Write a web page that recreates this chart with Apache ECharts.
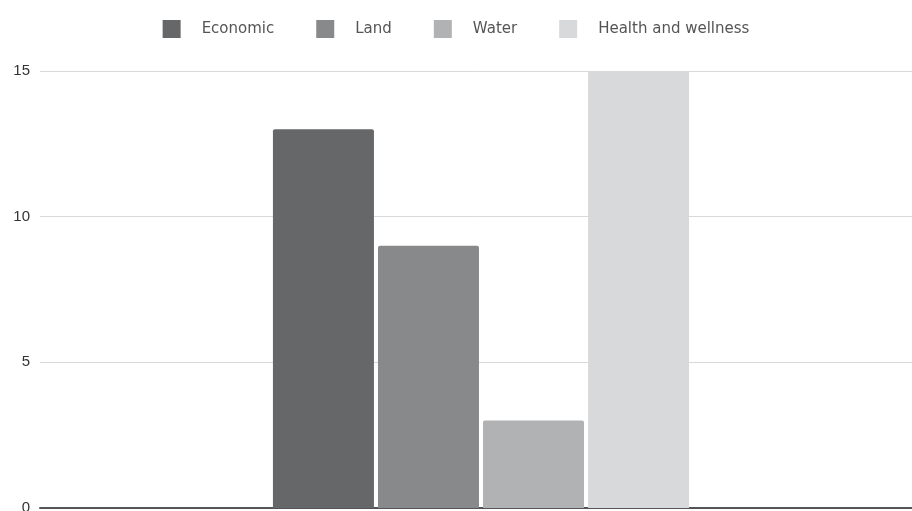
<!DOCTYPE html>
<html>
<head>
<meta charset="utf-8">
<script src="https://cdn.jsdelivr.net/npm/echarts@6/dist/echarts.min.js"></script>
<style>html,body{margin:0;padding:0;background:#fff}#c{width:912px;height:511px}</style>
</head>
<body>
<div id="c"></div>
<script>
var categories = [''];
var seriesNames = ['Economic', 'Land', 'Water', 'Health and wellness'];
var economic = [13];
var land = [9];
var water = [3];
var health = [15];
var yTicks = [0, 5, 10, 15];

var colors = ['#666769', '#88898b', '#b1b2b4', '#d8d9db'];
var values = [economic, land, water, health];
var chart = echarts.init(document.getElementById('c'), null, {renderer: 'canvas'});
chart.setOption({
  animation: false,
  color: colors,
  legend: {
    top: 15,
    left: 'center',
    itemWidth: 18,
    itemHeight: 18,
    itemGap: 42,
    icon: 'rect',
    textStyle: {fontFamily: 'DejaVu Sans', fontSize: 15, color: '#555', padding: [0, 0, 0, 16]},
    data: seriesNames
  },
  grid: {left: 40, right: -10, top: 71, bottom: 3, containLabel: false, outerBoundsMode: 'none'},
  xAxis: {
    type: 'category',
    data: categories,
    axisLine: {lineStyle: {color: '#555', width: 2}},
    axisTick: {show: false},
    axisLabel: {show: false}
  },
  yAxis: {
    type: 'value',
    min: yTicks[0],
    max: yTicks[yTicks.length - 1],
    interval: 5,
    axisLine: {show: false},
    axisTick: {show: false},
    splitLine: {lineStyle: {color: '#d9d9d9', width: 1}},
    axisLabel: {fontFamily: 'Liberation Sans', fontSize: 15, color: '#333', margin: 10}
  },
  series: seriesNames.map(function (n, i) {
    return {
      name: n,
      type: 'bar',
      data: values[i],
      barWidth: 101,
      barGap: '4%',
      itemStyle: {color: colors[i], borderRadius: [2, 2, 0, 0]}
    };
  })
});
</script>
</body>
</html>
